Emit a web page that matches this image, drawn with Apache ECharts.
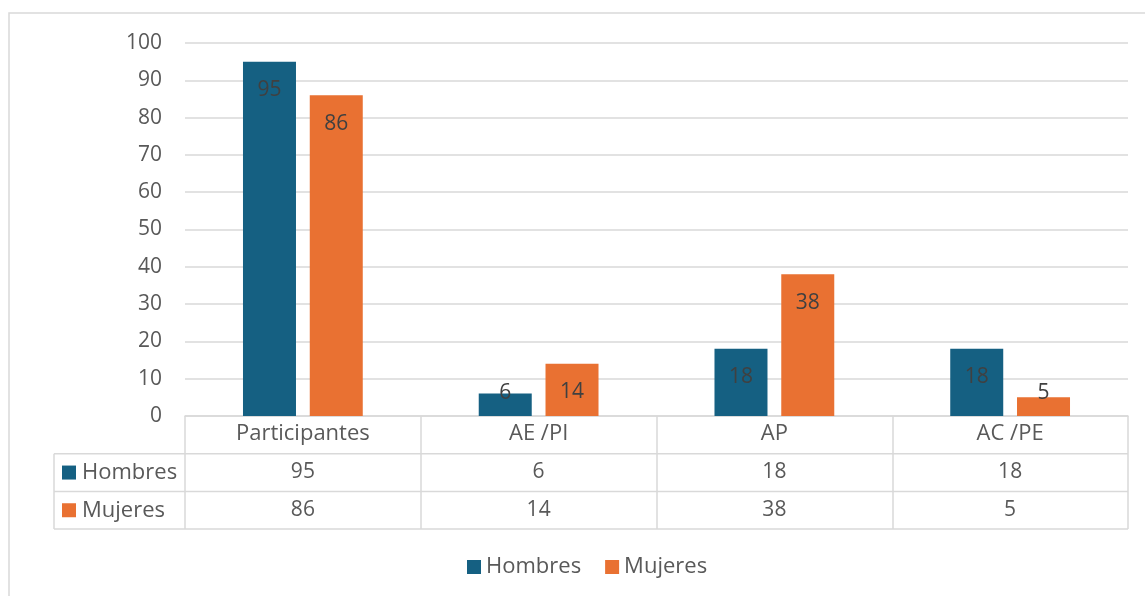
<!DOCTYPE html>
<html>
<head>
<meta charset="utf-8">
<script src="https://cdn.jsdelivr.net/npm/echarts@6/dist/echarts.min.js"></script>
<style>html,body{margin:0;padding:0;background:#fff;}#c{width:1145px;height:596px;}</style>
</head>
<body>
<div id="c"></div>
<script>
const categories = ['Participantes', 'AE /PI', 'AP', 'AC /PE'];
const seriesNames = ['Hombres', 'Mujeres'];
const hombres = [95, 6, 18, 18];
const mujeres = [86, 14, 38, 5];
const yTicks = [0, 10, 20, 30, 40, 50, 60, 70, 80, 90, 100];

const colors = ['#156082', '#E97132'];
const FONT = '"Open Sans", sans-serif';
const TXT = '#595959';
const LINE = '#d9d9d9';
const G = { left: 185, right: 17, top: 43, bottom: 180 };
const ROW = 37.7;
const NUMSIZE = 21, WORDSIZE = 22;

const chart = echarts.init(document.getElementById('c'), null, { renderer: 'canvas' });
const W = chart.getWidth(), H = chart.getHeight();
const axisY = H - G.bottom;
const plotRight = W - G.right;
const tableLeft = 54;

function barData(vals) {
  return vals.map(v => ({
    value: v,
    label: v >= 14 ? { position: 'insideTop', distance: 18 } : { position: 'insideBottom', distance: 12 }
  }));
}

const graphic = [
  { type: 'rect', shape: { x: 9, y: 13, width: 1300, height: 800 }, style: { fill: 'none', stroke: LINE, lineWidth: 1.5 }, silent: true },
  { type: 'line', shape: { x1: tableLeft, y1: axisY + ROW, x2: plotRight, y2: axisY + ROW }, style: { stroke: LINE, lineWidth: 1.5 } },
  { type: 'line', shape: { x1: tableLeft, y1: axisY + 2 * ROW, x2: plotRight, y2: axisY + 2 * ROW }, style: { stroke: LINE, lineWidth: 1.5 } },
  { type: 'line', shape: { x1: tableLeft, y1: axisY + 3 * ROW, x2: plotRight, y2: axisY + 3 * ROW }, style: { stroke: LINE, lineWidth: 1.5 } },
  { type: 'line', shape: { x1: tableLeft, y1: axisY + ROW, x2: tableLeft, y2: axisY + 3 * ROW }, style: { stroke: LINE, lineWidth: 1.5 } }
];
seriesNames.forEach((name, i) => {
  const cy = axisY + ROW * (i + 1.5);
  graphic.push({ type: 'rect', shape: { x: 62, y: cy - 7, width: 14, height: 14 }, style: { fill: colors[i] } });
  graphic.push({ type: 'text', x: 82, y: cy, style: { text: name, font: WORDSIZE + 'px ' + FONT, fill: TXT, verticalAlign: 'middle' } });
});

const option = {
  animation: false,
  color: colors,
  textStyle: { fontFamily: FONT },
  grid: G,
  legend: {
    data: seriesNames,
    left: 462, top: 551,
    icon: 'rect', itemWidth: 14, itemHeight: 14, itemGap: 24,
    textStyle: { fontSize: WORDSIZE, color: TXT, fontFamily: FONT }
  },
  xAxis: [
    {
      type: 'category', data: categories,
      axisLine: { lineStyle: { color: LINE, width: 1.5 } },
      axisTick: { show: true, length: ROW * 3, lineStyle: { color: LINE, width: 1.5 }, alignWithLabel: false },
      axisLabel: { fontSize: WORDSIZE, color: TXT, margin: 7, fontFamily: FONT }
    },
    {
      type: 'category', data: hombres.map(String), position: 'bottom', offset: ROW,
      axisLine: { show: false }, axisTick: { show: false },
      axisLabel: { fontSize: NUMSIZE, color: TXT, margin: 8, fontFamily: FONT }
    },
    {
      type: 'category', data: mujeres.map(String), position: 'bottom', offset: ROW * 2,
      axisLine: { show: false }, axisTick: { show: false },
      axisLabel: { fontSize: NUMSIZE, color: TXT, margin: 8, fontFamily: FONT }
    }
  ],
  yAxis: {
    type: 'value', min: yTicks[0], max: yTicks[yTicks.length - 1], interval: 10,
    axisLine: { show: false }, axisTick: { show: false },
    axisLabel: { fontSize: NUMSIZE, color: TXT, margin: 23, fontFamily: FONT },
    splitLine: { lineStyle: { color: LINE, width: 1.5 } }
  },
  series: [
    { name: seriesNames[0], type: 'bar', data: barData(hombres), barWidth: 53, barGap: '26%',
      label: { show: true, fontSize: NUMSIZE, color: '#404040', fontFamily: FONT } },
    { name: seriesNames[1], type: 'bar', data: barData(mujeres), barWidth: 53, barGap: '26%',
      label: { show: true, fontSize: NUMSIZE, color: '#404040', fontFamily: FONT } }
  ],
  graphic: graphic
};
chart.setOption(option);
</script>
</body>
</html>
